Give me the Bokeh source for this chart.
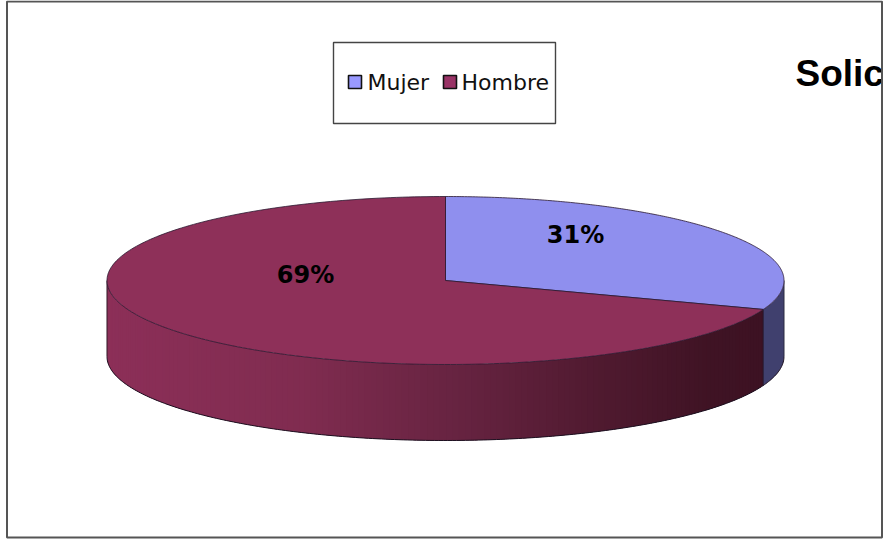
import numpy as np
from bokeh.plotting import figure
from bokeh.models import Range1d
from bokeh.core.properties import value
from bokeh.embed import file_html
from bokeh.resources import INLINE

# --- data
categories = ["Mujer", "Hombre"]
shares = [30.6, 69.4]
share_labels = ["31%", "69%"]
title_text = "Solic"

# --- style / layout
top_colors = ["#8F8FEE", "#8E3059"]
legend_colors = ["#9999FF", "#993366"]
side_mujer = "#40406E"
W, H = 885, 541
cx, cy, rx, ry, depth = 445.0, 280.0, 338.5, 84.0, 76.0
label_pos = [(575, 234), (305, 274)]
swatch_x = [348, 443]
legend_text_x = [367, 461]


def shade(t):
    """Left-to-right shading of the dark slice's wall (t in 0..1)."""
    stops_t = [0.0, 0.30, 0.55, 0.75, 0.92, 1.0]
    stops_rgb = np.array([[0x8C, 0x2F, 0x58], [0x80, 0x2C, 0x50], [0x66, 0x23, 0x40],
                          [0x50, 0x1A, 0x30], [0x3F, 0x13, 0x24], [0x3D, 0x12, 0x23]])
    rgb = [int(round(np.interp(t, stops_t, stops_rgb[:, i]))) for i in range(3)]
    return "#%02X%02X%02X" % tuple(rgb)


p = figure(width=W, height=H, output_backend="svg", toolbar_location=None,
           x_range=Range1d(0, W), y_range=Range1d(H, 0),
           min_border=0, outline_line_color=None, background_fill_color="white",
           border_fill_color="white")
p.axis.visible = False
p.grid.visible = False
p.styles = {"position": "absolute", "left": "0px", "top": "0px"}

# slice angles, clockwise from the top
total = float(sum(shares))
edges = np.concatenate([[0.0], np.cumsum(shares) / total * 2 * np.pi])


def ex(a):
    return cx + rx * np.sin(a)


def ey(a):
    return cy - ry * np.cos(a)


def wall(a0, a1, n=6):
    t = np.linspace(a0, a1, n)
    return np.r_[ex(t), ex(t)[::-1]], np.r_[ey(t), ey(t)[::-1] + depth]


# wall of the pie (front half only); each strip overlaps the next, so no seams show
a_front0, a_front1 = np.pi / 2, 3 * np.pi / 2
boundary = edges[1]
wx, wy = wall(a_front0, boundary, 30)
p.patch(wx, wy, fill_color=side_mujer, line_color=None)

grid = np.linspace(boundary, a_front1, 150)
wall_xs, wall_ys, wall_c = [], [], []
for i in range(len(grid) - 1):
    a0, a1 = grid[i], grid[min(i + 2, len(grid) - 1)]
    wx, wy = wall(a0, a1)
    wall_xs.append(wx)
    wall_ys.append(wy)
    wall_c.append(shade((ex(a0) - (cx - rx)) / (2 * rx * 0.97)))
p.patches(wall_xs, wall_ys, fill_color=wall_c, line_color=None)

# wall outline
outline = np.linspace(a_front0, a_front1, 240)
p.line(ex(outline), ey(outline) + depth, line_color="#1C1020", line_width=1)
p.line([ex(a_front0)] * 2, [cy, cy + depth], line_color="#2A2A40", line_width=1)
p.line([ex(a_front1)] * 2, [cy, cy + depth], line_color="#2A1020", line_width=1)
p.line([ex(boundary)] * 2, [ey(boundary), ey(boundary) + depth], line_color="#1F1630", line_width=1)

# top face
for i in range(len(shares)):
    t = np.linspace(edges[i], edges[i + 1], 240)
    p.patch(np.r_[cx, ex(t)], np.r_[cy, ey(t)], fill_color=top_colors[i],
            line_color="#2A1830", line_width=0.8)

# percentage labels
p.text([q[0] for q in label_pos], [q[1] for q in label_pos], text=share_labels,
       text_font=value("DejaVu Sans"), text_font_style="bold", text_font_size="24px",
       text_color="#000000", text_align="center", text_baseline="middle")

# legend
p.quad(left=[333], right=[555], top=[42], bottom=[123], fill_color="white",
       line_color="#444444", line_width=1.4)
p.quad(left=swatch_x, right=[v + 13 for v in swatch_x], top=[75] * 2, bottom=[88] * 2,
       fill_color=legend_colors, line_color="#111111", line_width=1.6)
p.text(legend_text_x, [82, 82], text=categories, text_font=value("DejaVu Sans"),
       text_font_size="22px", text_color="#111111", text_align="left", text_baseline="middle")

# clipped title
p.text([795], [73], text=[title_text], text_font=value("Liberation Sans"), text_font_style="bold",
       text_font_size="37px", text_color="#000000", text_align="left", text_baseline="middle")
p.quad(left=[881.5], right=[W], top=[0], bottom=[H], fill_color="white", line_color=None)

# chart frame
p.quad(left=[6.5], right=[881.5], top=[1], bottom=[537], fill_color=None,
       line_color="#555555", line_width=2)

open("out.html", "w").write(file_html(p, INLINE))
